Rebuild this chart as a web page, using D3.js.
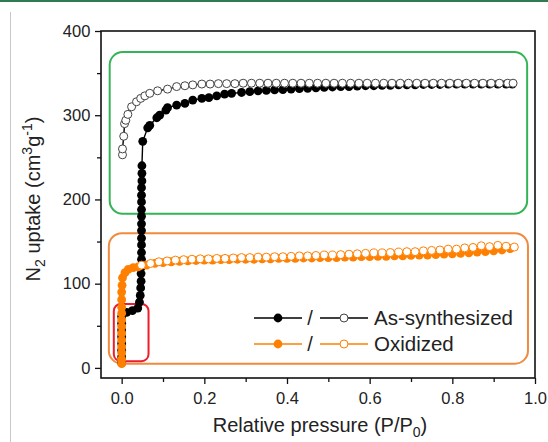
<!DOCTYPE html>
<html>
<head>
<meta charset="utf-8">
<script src="https://cdn.jsdelivr.net/npm/d3@7"></script>
<style>
  html, body { margin: 0; padding: 0; background: #fff; }
  svg { display: block; font-family: "Liberation Sans", Arial, sans-serif; }
</style>
</head>
<body>
<div id="chart"></div>
<script>
// ---- data: [P/P0, N2 uptake] ----
const asSynAds = [
  [0.000, 6], [0.000, 13], [0.000, 21], [0.000, 29], [0.000, 37], [0.000, 45], [0.000, 53], [0.000, 61],
  [0.012, 66], [0.026, 68], [0.039, 71],
  [0.043, 78], [0.045, 86], [0.046, 95], [0.047, 103], [0.047, 112], [0.048, 120], [0.048, 129], [0.048, 137],
  [0.048, 146], [0.048, 154], [0.048, 163], [0.048, 171], [0.048, 180], [0.048, 188], [0.048, 197], [0.048, 205],
  [0.048, 214], [0.049, 222], [0.049, 231], [0.049, 240],
  [0.051, 269], [0.063, 285], [0.068, 288], [0.085, 297], [0.092, 300], [0.107, 306], [0.111, 309],
  [0.133, 312], [0.153, 314], [0.172, 318], [0.194, 320], [0.211, 321], [0.230, 323], [0.249, 325], [0.266, 326],
  [0.29, 327], [0.31, 328], [0.33, 329], [0.35, 329.5], [0.37, 330], [0.39, 330.5], [0.41, 331], [0.43, 331.5],
  [0.45, 332], [0.47, 332.5], [0.49, 333], [0.51, 333.5], [0.53, 334], [0.55, 334], [0.57, 334.5], [0.59, 335],
  [0.61, 335], [0.63, 335.5], [0.65, 335.5], [0.67, 336], [0.69, 336], [0.71, 336], [0.73, 336.5], [0.75, 336.5],
  [0.77, 336.5], [0.79, 337], [0.81, 337], [0.83, 337], [0.85, 337], [0.87, 337], [0.89, 337], [0.91, 337],
  [0.93, 337], [0.945, 337]
];

const asSynDes = [
  [0.002, 253], [0.002, 260], [0.005, 275], [0.007, 290], [0.010, 294], [0.015, 301], [0.024, 310],
  [0.036, 316], [0.046, 320], [0.056, 323], [0.068, 326], [0.087, 329], [0.111, 331], [0.133, 334],
  [0.153, 335], [0.172, 336], [0.194, 337], [0.214, 337], [0.234, 337.5], [0.254, 337.5], [0.274, 337.5],
  [0.294, 338], [0.314, 338], [0.334, 338], [0.354, 338], [0.374, 338], [0.394, 338], [0.414, 338],
  [0.434, 338], [0.454, 338], [0.474, 338], [0.494, 338], [0.514, 338], [0.534, 338], [0.554, 338],
  [0.574, 338], [0.594, 338], [0.614, 338], [0.634, 338], [0.654, 338], [0.674, 338], [0.694, 338],
  [0.714, 338], [0.734, 338], [0.754, 338], [0.774, 338], [0.794, 338], [0.814, 338], [0.834, 338],
  [0.854, 338], [0.874, 338], [0.894, 338], [0.914, 338], [0.934, 338], [0.947, 338]
];

const oxiAds = [
  [0.000, 5], [0.000, 10], [0.000, 18], [0.000, 25], [0.000, 33], [0.000, 41], [0.000, 49], [0.000, 57],
  [0.000, 65], [0.000, 72], [0.000, 81], [0.000, 90], [0.001, 98], [0.002, 107], [0.008, 113], [0.016, 117],
  [0.028, 119], [0.040, 120], [0.06, 122], [0.08, 124], [0.10, 125], [0.12, 126], [0.14, 126.5], [0.16, 127],
  [0.18, 127.5], [0.20, 128], [0.22, 128], [0.24, 128.5], [0.26, 128.5], [0.28, 129], [0.30, 129], [0.32, 129],
  [0.34, 129.5], [0.36, 129.5], [0.38, 130], [0.40, 130], [0.42, 130], [0.44, 130.5], [0.46, 130.5], [0.48, 131],
  [0.50, 131], [0.52, 131], [0.54, 131.5], [0.56, 131.5], [0.58, 132], [0.60, 132], [0.62, 132.5], [0.64, 132.5],
  [0.66, 133], [0.68, 133], [0.70, 133.5], [0.72, 134], [0.74, 134], [0.76, 134.5], [0.78, 135], [0.80, 135.5],
  [0.82, 136], [0.84, 136.5], [0.86, 137.5], [0.88, 138], [0.90, 139], [0.92, 140], [0.94, 141.5]
];

const oxiDes = [
  [0.048, 122], [0.070, 124], [0.090, 126], [0.110, 127], [0.130, 128], [0.150, 128.5], [0.170, 129],
  [0.190, 129.5], [0.210, 129.5], [0.230, 130], [0.250, 130], [0.270, 130.5], [0.290, 131], [0.310, 131],
  [0.330, 131.5], [0.350, 131.5], [0.370, 132], [0.390, 132], [0.410, 132.5], [0.430, 133], [0.450, 133],
  [0.470, 133.5], [0.490, 134], [0.510, 134], [0.530, 134.5], [0.550, 135], [0.570, 135.5], [0.590, 136],
  [0.610, 136.5], [0.630, 136.5], [0.650, 137], [0.670, 137.5], [0.690, 138], [0.710, 138], [0.730, 139],
  [0.750, 139.5], [0.770, 140], [0.790, 141], [0.810, 141], [0.830, 142.5], [0.850, 143], [0.870, 145],
  [0.890, 144], [0.910, 145.5], [0.930, 144.5], [0.950, 143.5]
];

const xTicks = [0, 0.2, 0.4, 0.6, 0.8, 1.0];
const xMinor = [0.1, 0.3, 0.5, 0.7, 0.9];
const yTicks = [0, 100, 200, 300, 400];
const yMinor = [50, 150, 250, 350];

// highlight boxes in data space: [x0, x1, v0, v1]
const boxes = [
  { ext: [-0.029, 0.981, 183, 375], color: "#33b455", r: 13 },
  { ext: [-0.031, 0.983, 5, 160], color: "#f28a3e", r: 13 },
  { ext: [-0.019, 0.065, 8, 76], color: "#ee1d2a", r: 7 }
];

const ORANGE = "#ff8000";

// ---- layout ----
const W = 548, H = 442;
const svg = d3.select("#chart").append("svg").attr("width", W).attr("height", H);

const x = d3.scaleLinear().domain([-0.05, 1.0]).range([101, 535]);
const y = d3.scaleLinear().domain([-12, 400]).range([378, 31]);

// page decorations
svg.append("rect").attr("x", 0).attr("y", 0).attr("width", W).attr("height", 2).attr("fill", "#2f7b52");
svg.append("line").attr("x1", 10.5).attr("x2", 10.5).attr("y1", 12).attr("y2", H)
  .attr("stroke", "#c8c8c8").attr("stroke-width", 1);

// boxes
boxes.forEach(b => {
  svg.append("rect")
    .attr("x", x(b.ext[0])).attr("y", y(b.ext[3]))
    .attr("width", x(b.ext[1]) - x(b.ext[0]))
    .attr("height", y(b.ext[2]) - y(b.ext[3]))
    .attr("rx", b.r).attr("ry", b.r)
    .attr("fill", "none").attr("stroke", b.color).attr("stroke-width", 2);
});

// axes
const xAxis = svg.append("g").attr("transform", `translate(0,${y.range()[0]})`)
  .call(d3.axisBottom(x).tickValues(xTicks).tickSize(6).tickFormat(d3.format(".1f")));
svg.append("g").attr("transform", `translate(0,${y.range()[0]})`)
  .call(d3.axisBottom(x).tickValues(xMinor).tickSize(4).tickFormat(""));
const yAxis = svg.append("g").attr("transform", `translate(${x.range()[0]},0)`)
  .call(d3.axisLeft(y).tickValues(yTicks).tickSize(6));
svg.append("g").attr("transform", `translate(${x.range()[0]},0)`)
  .call(d3.axisLeft(y).tickValues(yMinor).tickSize(4).tickFormat(""));

svg.selectAll(".domain").remove();
svg.selectAll(".tick line").attr("stroke", "#111").attr("stroke-width", 1.3);
xAxis.selectAll("text").attr("font-size", 16.5).attr("fill", "#222").attr("dy", "1.05em");
yAxis.selectAll("text").attr("font-size", 16.5).attr("fill", "#222").attr("dx", "-0.1em");

// frame
svg.append("rect")
  .attr("x", x.range()[0]).attr("y", y.range()[1])
  .attr("width", x.range()[1] - x.range()[0])
  .attr("height", y.range()[0] - y.range()[1])
  .attr("fill", "none").attr("stroke", "#111").attr("stroke-width", 1.6);

// axis titles
const xt = svg.append("text").attr("x", 320).attr("y", 432)
  .attr("text-anchor", "middle").attr("font-size", 20).attr("fill", "#222");
xt.append("tspan").text("Relative pressure (P/P");
xt.append("tspan").attr("font-size", 14).attr("dy", 5).text("0");
xt.append("tspan").attr("dy", -5).text(")");

const yt = svg.append("text").attr("transform", "translate(40,199) rotate(-90)")
  .attr("text-anchor", "middle").attr("font-size", 20).attr("fill", "#222");
yt.append("tspan").text("N");
yt.append("tspan").attr("font-size", 14).attr("dy", 5).text("2");
yt.append("tspan").attr("dy", -5).text(" uptake (cm");
yt.append("tspan").attr("font-size", 14).attr("dy", -8).text("3");
yt.append("tspan").attr("dy", 8).text("g");
yt.append("tspan").attr("font-size", 14).attr("dy", -8).text("-1");
yt.append("tspan").attr("dy", 8).text(")");

// series
const line = d3.line().x(d => x(d[0])).y(d => y(d[1]));
function drawSeries(data, color, open) {
  svg.append("path").datum(data).attr("d", line)
    .attr("fill", "none").attr("stroke", color).attr("stroke-width", 1.4);
  svg.append("g").selectAll("circle").data(data).join("circle")
    .attr("cx", d => x(d[0])).attr("cy", d => y(d[1]))
    .attr("r", open ? 4 : 4.4)
    .attr("fill", open ? "#fff" : color)
    .attr("stroke", open ? (color === "#000" ? "#444" : color) : "none")
    .attr("stroke-width", 1);
}
drawSeries(asSynAds, "#000", false);
drawSeries(asSynDes, "#000", true);
drawSeries(oxiAds, ORANGE, false);
drawSeries(oxiDes, ORANGE, true);

// legend
const legendRows = [
  { label: "As-synthesized", color: "#000", y: 318 },
  { label: "Oxidized", color: ORANGE, y: 344 }
];
legendRows.forEach(r => {
  const g = svg.append("g");
  g.append("line").attr("x1", 254).attr("x2", 302).attr("y1", r.y).attr("y2", r.y)
    .attr("stroke", r.color).attr("stroke-width", 1.6);
  g.append("circle").attr("cx", 278).attr("cy", r.y).attr("r", 4.4).attr("fill", r.color);
  g.append("text").attr("x", 310).attr("y", r.y + 7).attr("text-anchor", "middle")
    .attr("font-size", 20).attr("fill", "#222").text("/");
  g.append("line").attr("x1", 320).attr("x2", 368).attr("y1", r.y).attr("y2", r.y)
    .attr("stroke", r.color).attr("stroke-width", 1.6);
  g.append("circle").attr("cx", 344).attr("cy", r.y).attr("r", 4).attr("fill", "#fff")
    .attr("stroke", r.color === "#000" ? "#444" : r.color).attr("stroke-width", 1);
  g.append("text").attr("x", 374).attr("y", r.y + 7).attr("font-size", 20.5)
    .attr("fill", "#222").text(r.label);
});
</script>
</body>
</html>
